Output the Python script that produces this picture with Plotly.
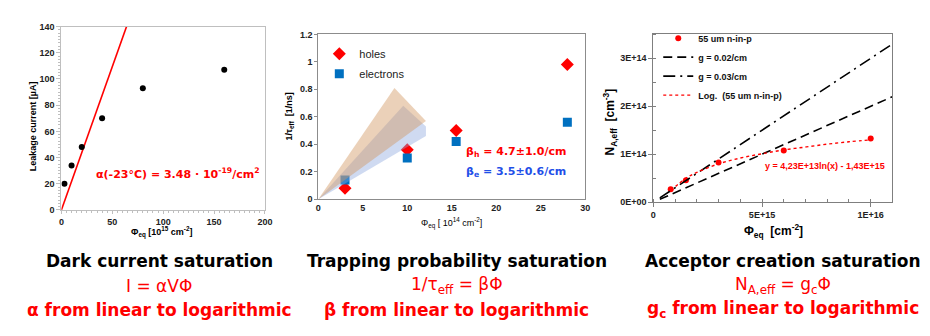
import plotly.graph_objects as go

# ---- panel 1: dark current ----
phi1 = [3, 10, 20, 40, 80, 160]
leak = [20, 34, 48, 70, 93, 107]
alpha_x = [0, 100]
alpha_y = [0, 218.75]

# ---- panel 2: trapping ----
phi2 = [3, 10, 15.5, 28]
holes = [0.08, 0.36, 0.50, 0.98]
electrons = [0.14, 0.30, 0.42, 0.56]
wedge_h_x = [0, 8.56, 12.1, 0]
wedge_h_y = [0, 0.81, 0.57, 0]
wedge_e_x = [0, 9.55, 12.1, 12.1, 0]
wedge_e_y = [0, 0.68, 0.53, 0.46, 0]

# ---- panel 3: acceptor creation ----
phi3 = [0.8e15, 1.5e15, 3e15, 6e15, 1e16]
nacc = [2.7e13, 4.6e13, 8.3e13, 1.08e14, 1.33e14]
g_x = [0.3e15, 1.1e16]
g002_y = [0.06e14, 2.2e14]
g003_y = [0.09e14, 3.3e14]
log_x = [0.8e15, 1.5e15, 2e15, 3e15, 4e15, 5e15, 6e15, 7e15, 8e15, 9e15, 1e16]
log_y = [2.4e13, 5.0e13, 6.2e13, 8.0e13, 9.2e13, 1.01e14, 1.09e14, 1.15e14, 1.21e14, 1.26e14, 1.30e14]

W, H = 930, 336
def px(x): return x / W
def py(y): return 1 - y / H

RED = "#FF0000"
BLUE = "#0070C0"
TICKF = dict(family="Liberation Sans", size=9, color="#222")

fig = go.Figure()

# panel 1
fig.add_trace(go.Scatter(x=alpha_x, y=alpha_y, mode="lines", line=dict(color=RED, width=1.6),
                         showlegend=False, xaxis="x", yaxis="y"))
fig.add_trace(go.Scatter(x=phi1, y=leak, mode="markers", marker=dict(color="black", size=6),
                         showlegend=False, xaxis="x", yaxis="y"))

# panel 2
fig.add_trace(go.Scatter(x=phi2, y=holes, mode="markers", name="holes",
                         marker=dict(symbol="diamond", color=RED, size=10),
                         legend="legend", legendgroup="h", xaxis="x2", yaxis="y2"))
fig.add_trace(go.Scatter(x=phi2, y=electrons, mode="markers", name="electrons",
                         marker=dict(symbol="square", color=BLUE, size=9),
                         legend="legend", legendgroup="e", xaxis="x2", yaxis="y2"))
fig.add_trace(go.Scatter(x=wedge_e_x, y=wedge_e_y, mode="lines", fill="toself",
                         fillcolor="rgba(140,168,222,0.42)", line=dict(width=0),
                         showlegend=False, hoverinfo="skip", xaxis="x2", yaxis="y2"))
fig.add_trace(go.Scatter(x=wedge_h_x, y=wedge_h_y, mode="lines", fill="toself",
                         fillcolor="rgba(210,150,95,0.44)", line=dict(width=0),
                         showlegend=False, hoverinfo="skip", xaxis="x2", yaxis="y2"))

# panel 3
fig.add_trace(go.Scatter(x=phi3, y=nacc, mode="markers", name="55 um n-in-p",
                         marker=dict(color=RED, size=6), legend="legend2",
                         xaxis="x3", yaxis="y3"))
fig.add_trace(go.Scatter(x=g_x, y=g002_y, mode="lines", name="g = 0.02/cm",
                         line=dict(color="black", width=1.6, dash="9px,5px"),
                         legend="legend2", xaxis="x3", yaxis="y3"))
fig.add_trace(go.Scatter(x=g_x, y=g003_y, mode="lines", name="g = 0.03/cm",
                         line=dict(color="black", width=1.6, dash="12px,5px,2px,5px"),
                         legend="legend2", xaxis="x3", yaxis="y3"))
fig.add_trace(go.Scatter(x=log_x, y=log_y, mode="lines", name="Log.  (55 um n-in-p)",
                         line=dict(color=RED, width=1.4, dash="dot", shape="spline"),
                         legend="legend2", xaxis="x3", yaxis="y3"))

common = dict(showgrid=False, zeroline=False, showline=True, mirror=True, tickfont=TICKF)

fig.update_layout(
    width=W, height=H, margin=dict(l=0, r=0, t=0, b=0),
    paper_bgcolor="white", plot_bgcolor="white",
    font=dict(family="Liberation Sans", color="black"),
    xaxis=dict(domain=[px(51), px(257)], range=[0, 200], dtick=50, anchor="y",
               linecolor="#BFBFBF", ticks="outside", ticklen=3, tickcolor="#BFBFBF",
               tickprefix="<b>", ticksuffix="</b>",
               minor=dict(dtick=5, ticks="outside", ticklen=2, tickcolor="#BFBFBF"), **common),
    yaxis=dict(domain=[py(203), py(14)], range=[0, 140], dtick=20, anchor="x",
               linecolor="#BFBFBF", ticks="outside", ticklen=4, tickcolor="#BFBFBF",
               tickprefix="<b>", ticksuffix="</b>",
               minor=dict(dtick=2.5, ticks="outside", ticklen=2, tickcolor="#BFBFBF"), **common),
    xaxis2=dict(domain=[px(311), px(581)], range=[0, 30], dtick=5, anchor="y2",
                linecolor="#8C8C8C", ticks="", tickcolor="#8C8C8C",
                tickprefix="<b>", ticksuffix="</b>", **common),
    yaxis2=dict(domain=[py(192), py(22)], range=[0, 1.2], dtick=0.2, anchor="x2",
                linecolor="#8C8C8C", ticks="outside", ticklen=3, tickcolor="#8C8C8C",
                tickprefix="<b>", ticksuffix="</b>", **common),
    xaxis3=dict(domain=[px(650), px(892)], range=[0, 1.1e16], anchor="y3",
                tickvals=[0, 5e15, 1e16], ticktext=["<b>0</b>", "<b>5E+15</b>", "<b>1E+16</b>"],
                linecolor="#7F7F7F", ticks="outside", ticklen=4, tickcolor="#7F7F7F",
                minor=dict(dtick=1e15, ticks="inside", ticklen=3, tickcolor="#7F7F7F"), **common),
    yaxis3=dict(domain=[py(195), py(22)], range=[0, 3.5e14], anchor="x3",
                tickvals=[0, 1e14, 2e14, 3e14],
                ticktext=["<b>0E+00</b>", "<b>1E+14</b>", "<b>2E+14</b>", "<b>3E+14</b>"],
                linecolor="#7F7F7F", ticks="outside", ticklen=4, tickcolor="#7F7F7F",
                minor=dict(dtick=5e13, ticks="inside", ticklen=3, tickcolor="#7F7F7F"), **common),
    legend=dict(x=px(312), y=py(27), xanchor="left", yanchor="top", bgcolor="rgba(0,0,0,0)",
                font=dict(family="Liberation Sans", size=11, color="#222"), tracegroupgap=1),
    legend2=dict(x=px(655), y=py(11), xanchor="left", yanchor="top", bgcolor="rgba(0,0,0,0)",
                 font=dict(family="Liberation Sans", size=9, color="#111", weight="bold")),
)

def note(text, x, y, size, color="black", angle=0, family="Liberation Sans"):
    fig.add_annotation(text=text, x=px(x), y=py(y), xref="paper", yref="paper",
                       showarrow=False, textangle=angle, xanchor="center", yanchor="middle",
                       font=dict(family=family, size=size, color=color))

# axis titles
note("<b>Leakage current [µA]</b>", 22, 117, 9, angle=-90)
note("<b>Φ<sub>eq</sub> [10<sup>15</sup> cm<sup>-2</sup>]</b>", 152, 226, 9)
note("<b>1/τ<sub>eff</sub>  [1/ns]</b>", 282, 107, 9, angle=-90)
note("Φ<sub>eq</sub> [ 10<sup>14</sup> cm<sup>-2</sup>]", 446, 216, 9)
note("<b>N<sub>A,eff</sub>  [cm<sup>-3</sup>]</b>", 606, 112, 12, angle=-90)
note("<b>Φ<sub>eq</sub>  [cm<sup>-2</sup>]</b>", 772, 225, 12)

# in-plot notes
note("<b>α(-23°C) = 3.48 · 10<sup>-19</sup>/cm<sup>2</sup></b>", 168, 165, 11, RED, family="DejaVu Sans")
note("<b>β<sub>h</sub> = 4.7±1.0/cm</b>", 511, 143, 11, RED, family="DejaVu Sans")
note("<b>β<sub>e</sub> = 3.5±0.6/cm</b>", 511, 164, 11, "#1F4FE8", family="DejaVu Sans")
note("<b>y = 4,23E+13ln(x) - 1,43E+15</b>", 824, 158, 9, RED)

# captions
caps = [
    ("Dark current saturation", "I = αVΦ", "α from linear to logarithmic", 150),
    ("Trapping probability saturation", "1/τ<sub>eff</sub> = βΦ", "β from linear to logarithmic", 451),
    ("Acceptor creation saturation", "N<sub>A,eff</sub> = g<sub>c</sub>Φ",
     "g<sub>c</sub> from linear to logarithmic", 781),
]
for title, formula, sub, cx in caps:
    note("<b>" + title + "</b>", cx, 256, 17, "black", family="DejaVu Sans")
    note(formula, cx, 281, 17, RED, family="DejaVu Sans")
    note("<b>" + sub + "</b>", cx, 306, 17, RED, family="DejaVu Sans")

fig.write_html("out.html")
